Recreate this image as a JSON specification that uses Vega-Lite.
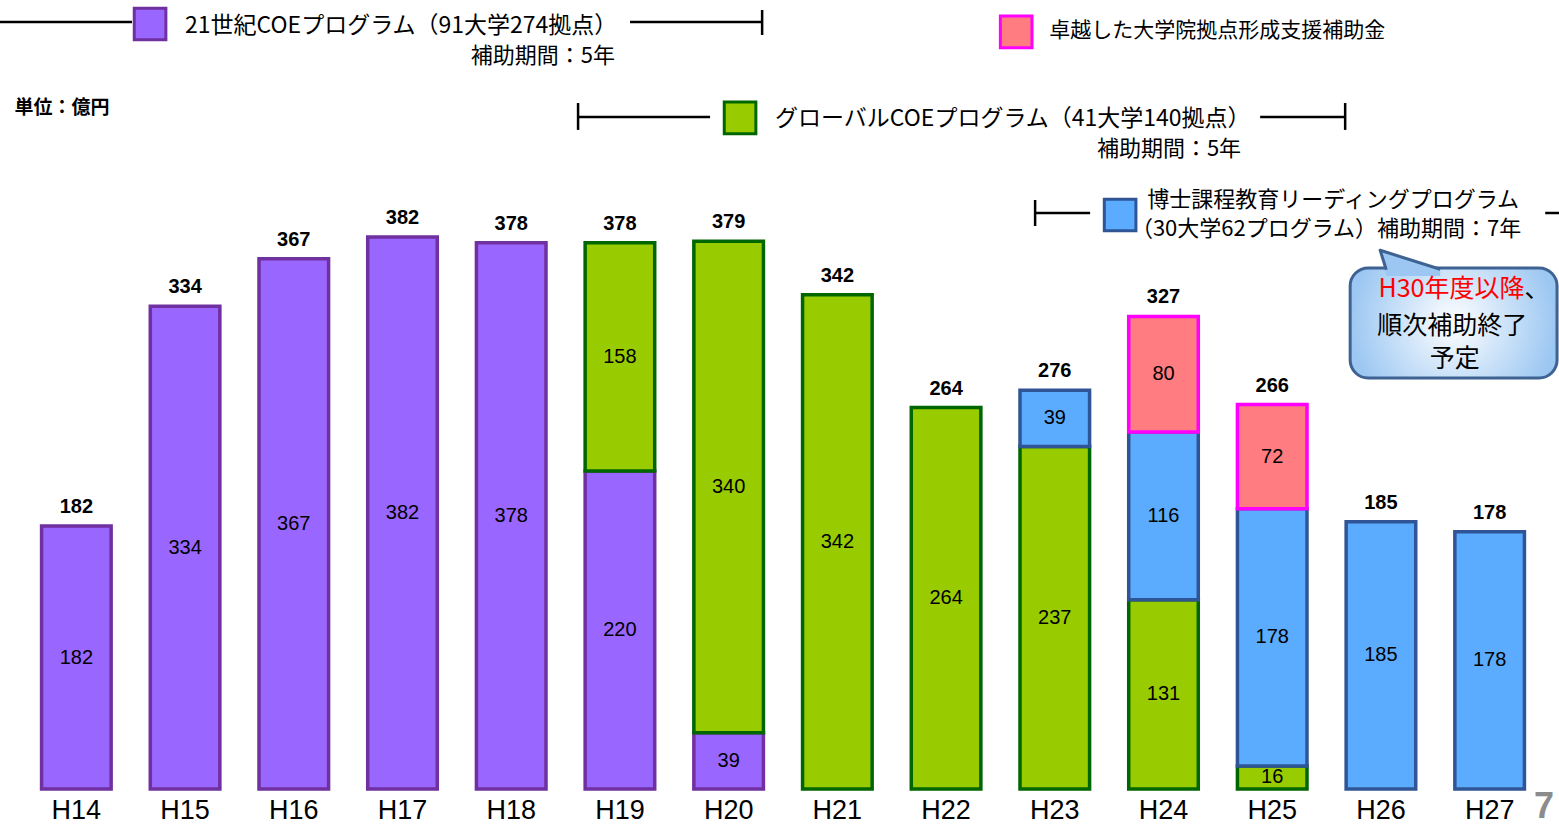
{
  "$schema": "https://vega.github.io/schema/vega-lite/v6.json",
  "width": 1522,
  "height": 789,
  "padding": {"left": 22, "top": 0, "right": 15, "bottom": 36},
  "autosize": {"type": "none"},
  "background": "white",
  "config": {"view": {"stroke": null}},
  "datasets": {
    "main": [
      {"year": "H14", "prog": "21COE", "k": 1, "v": 182},
      {"year": "H15", "prog": "21COE", "k": 1, "v": 334},
      {"year": "H16", "prog": "21COE", "k": 1, "v": 367},
      {"year": "H17", "prog": "21COE", "k": 1, "v": 382},
      {"year": "H18", "prog": "21COE", "k": 1, "v": 378},
      {"year": "H19", "prog": "21COE", "k": 1, "v": 220},
      {"year": "H19", "prog": "GCOE", "k": 2, "v": 158},
      {"year": "H20", "prog": "21COE", "k": 1, "v": 39},
      {"year": "H20", "prog": "GCOE", "k": 2, "v": 340},
      {"year": "H21", "prog": "GCOE", "k": 2, "v": 342},
      {"year": "H22", "prog": "GCOE", "k": 2, "v": 264},
      {"year": "H23", "prog": "GCOE", "k": 2, "v": 237},
      {"year": "H23", "prog": "Leading", "k": 3, "v": 39},
      {"year": "H24", "prog": "GCOE", "k": 2, "v": 131},
      {"year": "H24", "prog": "Leading", "k": 3, "v": 116},
      {"year": "H24", "prog": "Takuetsu", "k": 4, "v": 80},
      {"year": "H25", "prog": "GCOE", "k": 2, "v": 16},
      {"year": "H25", "prog": "Leading", "k": 3, "v": 178},
      {"year": "H25", "prog": "Takuetsu", "k": 4, "v": 72},
      {"year": "H26", "prog": "Leading", "k": 3, "v": 185},
      {"year": "H27", "prog": "Leading", "k": 3, "v": 178}
    ]
  },
  "resolve": {"scale": {"x": "independent"}},
  "layer": [
    {
      "layer": [
        {
          "data": {"name": "main"},
          "mark": {"type": "bar", "strokeWidth": 3.5},
          "encoding": {
            "x": {"field": "year", "type": "nominal", "sort": null,
                  "scale": {"paddingInner": 0.36, "paddingOuter": 0.18},
                  "axis": {"title": null, "domain": false, "ticks": false, "labelAngle": 0,
                           "labelFont": "Liberation Sans", "labelFontSize": 27, "labelColor": "#000000",
                           "labelPadding": 8}},
            "y": {"field": "v", "type": "quantitative", "aggregate": "sum", "stack": "zero",
                  "scale": {"domain": [0, 546], "nice": false}, "axis": null},
            "order": {"field": "k", "type": "quantitative"},
            "color": {"field": "prog", "type": "nominal",
                      "scale": {"domain": ["21COE", "GCOE", "Leading", "Takuetsu"],
                                "range": ["#9966FF", "#99CC00", "#5BACFF", "#FF7C80"]},
                      "legend": null},
            "stroke": {"field": "prog", "type": "nominal",
                       "scale": {"domain": ["21COE", "GCOE", "Leading", "Takuetsu"],
                                 "range": ["#7030A0", "#006600", "#2F5597", "#FF00FF"]},
                       "legend": null}
          }
        },
        {
          "data": {"name": "main"},
          "transform": [
            {"stack": "v", "groupby": ["year"], "sort": [{"field": "k", "order": "ascending"}], "as": ["v0", "v1"]},
            {"calculate": "(datum.v0 + datum.v1) / 2", "as": "mid"}
          ],
          "mark": {"type": "text", "font": "Liberation Sans", "fontSize": 20, "color": "#000000", "baseline": "middle"},
          "encoding": {
            "x": {"field": "year", "type": "nominal", "sort": null},
            "y": {"field": "mid", "type": "quantitative", "scale": {"domain": [0, 546], "nice": false}},
            "text": {"field": "v", "type": "quantitative"}
          }
        },
        {
          "data": {"name": "main"},
          "transform": [
            {"aggregate": [{"op": "sum", "field": "v", "as": "total"}], "groupby": ["year"]}
          ],
          "mark": {"type": "text", "font": "Liberation Sans", "fontSize": 20, "fontWeight": "bold", "color": "#000000", "baseline": "middle", "dy": -19},
          "encoding": {
            "x": {"field": "year", "type": "nominal", "sort": null},
            "y": {"field": "total", "type": "quantitative", "scale": {"domain": [0, 546], "nice": false}},
            "text": {"field": "total", "type": "quantitative"}
          }
        }
      ]
    },
    {
      "layer": [
        {
          "data": {"values": [
            {"u": -0.3, "u2": 1.012, "v": 530.8, "v2": 530.8},
            {"u": 5.593, "u2": 6.808, "v": 530.8, "v2": 530.8},
            {"u": 6.808, "u2": 6.808, "v": 539.1, "v2": 521.8},
            {"u": 5.115, "u2": 5.115, "v": 474.7, "v2": 456.1},
            {"u": 5.115, "u2": 6.329, "v": 465.1, "v2": 465.1},
            {"u": 11.389, "u2": 12.171, "v": 465.1, "v2": 465.1},
            {"u": 12.171, "u2": 12.171, "v": 474.7, "v2": 456.1},
            {"u": 9.319, "u2": 9.319, "v": 407.6, "v2": 389.6},
            {"u": 9.319, "u2": 9.825, "v": 398.6, "v2": 398.6},
            {"u": 14.011, "u2": 14.3, "v": 398.6, "v2": 398.6}
          ]},
          "mark": {"type": "rule", "color": "#000000", "strokeWidth": 2.5},
          "encoding": {
            "x": {"field": "u", "type": "quantitative", "scale": {"domain": [0, 14], "nice": false, "zero": false}, "axis": null},
            "x2": {"field": "u2"},
            "y": {"field": "v", "type": "quantitative", "scale": {"domain": [0, 546], "nice": false}},
            "y2": {"field": "v2"}
          }
        },
        {
          "data": {"values": [
            {"prog": "21COE", "u": 1.178, "v": 529.4},
            {"prog": "Takuetsu", "u": 9.145, "v": 523.9},
            {"prog": "GCOE", "u": 6.605, "v": 464.4},
            {"prog": "Leading", "u": 10.101, "v": 397.2}
          ]},
          "mark": {"type": "point", "shape": "square", "size": 1000, "filled": true, "opacity": 1, "strokeWidth": 3},
          "encoding": {
            "x": {"field": "u", "type": "quantitative", "scale": {"domain": [0, 14], "nice": false, "zero": false}},
            "y": {"field": "v", "type": "quantitative", "scale": {"domain": [0, 546], "nice": false}},
            "color": {"field": "prog", "type": "nominal", "legend": null},
            "stroke": {"field": "prog", "type": "nominal", "legend": null}
          }
        },
        {
          "data": {"values": [
            {"t": "21世紀COEプログラム（91大学274拠点）", "u": 1.5, "v": 528.0},
            {"t": "グローバルCOEプログラム（41大学140拠点）", "u": 6.927, "v": 463.7}
          ]},
          "mark": {"type": "text", "font": "Noto Sans CJK JP", "fontSize": 23, "color": "#000000", "align": "left", "baseline": "middle"},
          "encoding": {
            "x": {"field": "u", "type": "quantitative", "scale": {"domain": [0, 14], "nice": false, "zero": false}},
            "y": {"field": "v", "type": "quantitative", "scale": {"domain": [0, 546], "nice": false}},
            "text": {"field": "t"}
          }
        },
        {
          "data": {"values": [
            {"t": "博士課程教育リーディングプログラム", "u": 10.35, "v": 407.6},
            {"t": "（30大学62プログラム）補助期間：7年", "u": 10.2, "v": 387.5}
          ]},
          "mark": {"type": "text", "font": "Noto Sans CJK JP", "fontSize": 22, "color": "#000000", "align": "left", "baseline": "middle"},
          "encoding": {
            "x": {"field": "u", "type": "quantitative", "scale": {"domain": [0, 14], "nice": false, "zero": false}},
            "y": {"field": "v", "type": "quantitative", "scale": {"domain": [0, 546], "nice": false}},
            "text": {"field": "t"}
          }
        },
        {
          "data": {"values": [
            {"t": "補助期間：5年", "u": 5.455, "v": 507.3},
            {"t": "補助期間：5年", "u": 11.214, "v": 442.9}
          ]},
          "mark": {"type": "text", "font": "Noto Sans CJK JP", "fontSize": 22, "color": "#000000", "align": "right", "baseline": "middle"},
          "encoding": {
            "x": {"field": "u", "type": "quantitative", "scale": {"domain": [0, 14], "nice": false, "zero": false}},
            "y": {"field": "v", "type": "quantitative", "scale": {"domain": [0, 546], "nice": false}},
            "text": {"field": "t"}
          }
        },
        {
          "data": {"values": [
            {"t": "卓越した大学院拠点形成支援補助金", "u": 9.448, "v": 524.6}
          ]},
          "mark": {"type": "text", "font": "Noto Sans CJK JP", "fontSize": 21, "color": "#000000", "align": "left", "baseline": "middle"},
          "encoding": {
            "x": {"field": "u", "type": "quantitative", "scale": {"domain": [0, 14], "nice": false, "zero": false}},
            "y": {"field": "v", "type": "quantitative", "scale": {"domain": [0, 546], "nice": false}},
            "text": {"field": "t"}
          }
        },
        {
          "data": {"values": [
            {"t": "単位：億円", "u": -0.07, "v": 471.3}
          ]},
          "mark": {"type": "text", "font": "Noto Sans CJK JP", "fontSize": 19, "fontWeight": "bold", "color": "#000000", "align": "left", "baseline": "middle"},
          "encoding": {
            "x": {"field": "u", "type": "quantitative", "scale": {"domain": [0, 14], "nice": false, "zero": false}},
            "y": {"field": "v", "type": "quantitative", "scale": {"domain": [0, 546], "nice": false}},
            "text": {"field": "t"}
          }
        },
        {
          "data": {"values": [
            {"u": 12.217, "u2": 14.12, "v": 360.6, "v2": 284.4}
          ]},
          "mark": {"type": "rect", "cornerRadius": 18, "stroke": "#3E6393", "strokeWidth": 3,
                   "fill": {"gradient": "radial", "x1": 0.5, "y1": 0.5, "r1": 0, "x2": 0.5, "y2": 0.5, "r2": 0.5,
                            "stops": [{"offset": 0, "color": "#FFFFFF"}, {"offset": 1, "color": "#9CC7F2"}]}},
          "encoding": {
            "x": {"field": "u", "type": "quantitative", "scale": {"domain": [0, 14], "nice": false, "zero": false}},
            "x2": {"field": "u2"},
            "y": {"field": "v", "type": "quantitative", "scale": {"domain": [0, 546], "nice": false}},
            "y2": {"field": "v2"}
          }
        },
        {
          "data": {"values": [
            {"u": 12.493, "v": 372.8, "v2": 372.8},
            {"u": 12.549, "v": 371.5, "v2": 355.0},
            {"u": 13.045, "v": 359.7, "v2": 355.0}
          ]},
          "mark": {"type": "area", "color": "#9CC7F2", "opacity": 1, "interpolate": "linear"},
          "encoding": {
            "x": {"field": "u", "type": "quantitative", "scale": {"domain": [0, 14], "nice": false, "zero": false}},
            "y": {"field": "v", "type": "quantitative", "scale": {"domain": [0, 546], "nice": false}},
            "y2": {"field": "v2"}
          }
        },
        {
          "data": {"values": [
            {"i": 1, "u": 12.549, "v": 359.3},
            {"i": 2, "u": 12.493, "v": 372.8},
            {"i": 3, "u": 13.045, "v": 359.7}
          ]},
          "mark": {"type": "line", "color": "#3E6393", "strokeWidth": 3, "strokeJoin": "round"},
          "encoding": {
            "x": {"field": "u", "type": "quantitative", "scale": {"domain": [0, 14], "nice": false, "zero": false}},
            "y": {"field": "v", "type": "quantitative", "scale": {"domain": [0, 546], "nice": false}},
            "order": {"field": "i", "type": "quantitative"}
          }
        },
        {
          "data": {"values": [
            {"t": "H30年度以降", "u": 13.82, "v": 346.0}
          ]},
          "mark": {"type": "text", "font": "Noto Sans CJK JP", "fontSize": 25, "color": "#FF0000", "align": "right", "baseline": "middle"},
          "encoding": {
            "x": {"field": "u", "type": "quantitative", "scale": {"domain": [0, 14], "nice": false, "zero": false}},
            "y": {"field": "v", "type": "quantitative", "scale": {"domain": [0, 546], "nice": false}},
            "text": {"field": "t"}
          }
        },
        {
          "data": {"values": [
            {"t": "、", "u": 13.82, "v": 346.0}
          ]},
          "mark": {"type": "text", "font": "Noto Sans CJK JP", "fontSize": 25, "color": "#000000", "align": "left", "baseline": "middle"},
          "encoding": {
            "x": {"field": "u", "type": "quantitative", "scale": {"domain": [0, 14], "nice": false, "zero": false}},
            "y": {"field": "v", "type": "quantitative", "scale": {"domain": [0, 546], "nice": false}},
            "text": {"field": "t"}
          }
        },
        {
          "data": {"values": [
            {"t": "順次補助終了", "u": 13.155, "v": 320.4},
            {"t": "予定", "u": 13.18, "v": 297.5}
          ]},
          "mark": {"type": "text", "font": "Noto Sans CJK JP", "fontSize": 25, "color": "#000000", "align": "center", "baseline": "middle"},
          "encoding": {
            "x": {"field": "u", "type": "quantitative", "scale": {"domain": [0, 14], "nice": false, "zero": false}},
            "y": {"field": "v", "type": "quantitative", "scale": {"domain": [0, 546], "nice": false}},
            "text": {"field": "t"}
          }
        },
        {
          "data": {"values": [
            {"t": "7", "u": 14.0, "v": -12.5}
          ]},
          "mark": {"type": "text", "font": "Liberation Sans", "fontSize": 36, "fontWeight": "bold", "color": "#8C8C8C", "align": "center", "baseline": "middle"},
          "encoding": {
            "x": {"field": "u", "type": "quantitative", "scale": {"domain": [0, 14], "nice": false, "zero": false}},
            "y": {"field": "v", "type": "quantitative", "scale": {"domain": [0, 546], "nice": false}},
            "text": {"field": "t"}
          }
        }
      ]
    }
  ]
}
